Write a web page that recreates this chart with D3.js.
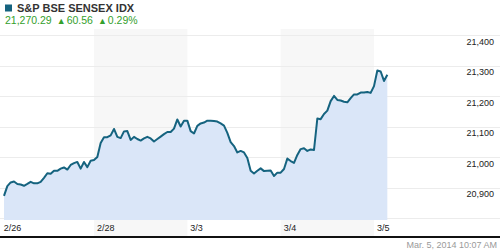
<!DOCTYPE html>
<html lang="en">
<head>
<meta charset="utf-8">
<title>S&amp;P BSE SENSEX IDX</title>
<style>
  body { margin: 0; background: #fff; }
  svg { display: block; font-family: "Liberation Sans", Arial, sans-serif; }
</style>
</head>
<body>
<div id="chart"></div>
<script src="https://d3js.org/d3.v7.min.js"></script>
<script>
// trading days (2/27 was a market holiday)
var days = ["2/26", "2/28", "3/3", "3/4", "3/5"];
var shadedDays = ["2/28", "3/4"];

// intraday values, sampled every ~13 minutes from the open
var day0226 = [20874, 20906, 20918, 20921, 20913, 20911, 20907, 20913, 20920, 20915, 20915, 20920, 20933, 20948,
               20946, 20956, 20956, 20963, 20967, 20960, 20975, 20981, 20985, 20963, 20985, 20968, 20989, 20991];
var day0228 = [21001, 21047, 21066, 21066, 21072, 21093, 21067, 21063, 21085, 21086, 21057, 21067, 21060, 21055,
               21062, 21067, 21062, 21052, 21060, 21068, 21076, 21083, 21083, 21094, 21124, 21101, 21120, 21120];
var day0303 = [21086, 21078, 21103, 21111, 21114, 21120, 21120, 21119, 21117, 21111, 21104, 21080, 21050, 21037,
               21016, 21021, 21016, 20998, 20956, 20947, 20956, 20964, 20955, 20956, 20957, 20939, 20950, 20950];
var day0304 = [20962, 20996, 20988, 20982, 21008, 21027, 21030, 21021, 21026, 21024, 21127, 21125, 21142, 21153,
               21184, 21201, 21188, 21186, 21182, 21180, 21194, 21206, 21206, 21212, 21212, 21214, 21211, 21233];
var day0305 = [21284, 21281, 21250, 21270.29];
var dayValues = [day0226, day0228, day0303, day0304, day0305];

var yTicks = [20800, 20900, 21000, 21100, 21200, 21300, 21400];
var title = "S&P BSE SENSEX IDX";
var lastPrice = "21,270.29";
var change = "60.56";
var changePct = "0.29%";
var timestamp = "Mar. 5, 2014 10:07 AM";

var width = 500,
    height = 250,
    slotsPerDay = 28,
    plotTop = 29,
    plotBottom = 220,
    axisLine = 236;

var points = [];
dayValues.forEach(function(vals, d) {
  vals.forEach(function(v, i) {
    points.push({ slot: d * slotsPerDay + i, value: v });
  });
});

var svg = d3.select("#chart")
  .append("svg")
  .attr("width", width)
  .attr("height", height);

var x = d3.scaleLinear()
  .domain([0, days.length * slotsPerDay])
  .range([4, 4 + days.length * slotsPerDay * 10 / 3]);

var y = d3.scaleLinear()
  .domain([20795, 21420])
  .range([plotBottom, plotTop]);

// day bands
svg.selectAll(".band")
  .data(days)
  .enter().append("rect")
  .attr("class", "band")
  .attr("x", function(d, i) { return x(i * slotsPerDay - 1); })
  .attr("y", plotTop)
  .attr("width", x(slotsPerDay) - x(0))
  .attr("height", axisLine - plotTop)
  .attr("fill", function(d) { return shadedDays.indexOf(d) >= 0 ? "#f7f7f7" : "none"; });

// gridlines
svg.selectAll(".grid")
  .data(yTicks)
  .enter().append("line")
  .attr("class", "grid")
  .attr("x1", 0)
  .attr("x2", width)
  .attr("y1", function(d) { return Math.round(y(d)) + 0.5; })
  .attr("y2", function(d) { return Math.round(y(d)) + 0.5; })
  .attr("stroke", "#ececec")
  .attr("stroke-width", 1);

var area = d3.area()
  .x(function(d) { return x(d.slot); })
  .y0(plotBottom)
  .y1(function(d) { return y(d.value); });

var line = d3.line()
  .x(function(d) { return x(d.slot); })
  .y(function(d) { return y(d.value); });

svg.append("path")
  .datum(points)
  .attr("d", area)
  .attr("fill", "#dae6f8");

svg.append("path")
  .datum(points)
  .attr("d", line)
  .attr("fill", "none")
  .attr("stroke", "#15637f")
  .attr("stroke-width", 2)
  .attr("stroke-linejoin", "round");

// y labels (below their gridline, right side)
svg.selectAll(".ylabel")
  .data(yTicks.filter(function(d) { return y(d) + 10 < plotBottom; }))
  .enter().append("text")
  .attr("class", "ylabel")
  .attr("x", 494)
  .attr("y", function(d) { return y(d) + 9.5; })
  .attr("text-anchor", "end")
  .attr("font-size", "9px")
  .attr("fill", "#222")
  .text(d3.format(","));

// x labels
svg.selectAll(".xlabel")
  .data(days)
  .enter().append("text")
  .attr("class", "xlabel")
  .attr("x", function(d, i) { return x(i * slotsPerDay - 1) + 3; })
  .attr("y", 230.5)
  .attr("font-size", "9px")
  .attr("fill", "#222")
  .text(function(d) { return d; });

svg.append("rect")
  .attr("x", 0)
  .attr("y", axisLine)
  .attr("width", width)
  .attr("height", 2)
  .attr("fill", "#111");

svg.append("text")
  .attr("x", 497)
  .attr("y", 248)
  .attr("text-anchor", "end")
  .attr("font-size", "9px")
  .attr("fill", "#9a9a9a")
  .text(timestamp);

// header
svg.append("rect")
  .attr("x", 5)
  .attr("y", 4.5)
  .attr("width", 7)
  .attr("height", 7)
  .attr("fill", "#15637f");

svg.append("text")
  .attr("x", 17)
  .attr("y", 12)
  .attr("font-size", "11px")
  .attr("font-weight", "bold")
  .attr("fill", "#333")
  .text(title);

var green = "#34a02c";
var quote = svg.append("text")
  .attr("x", 5)
  .attr("y", 24)
  .attr("font-size", "10.5px")
  .attr("fill", green);
quote.append("tspan").text(lastPrice);
quote.append("tspan").attr("dx", 5).attr("font-size", "9px").attr("dy", -0.5).text("\u25B2");
quote.append("tspan").attr("dx", 1).attr("dy", 0.5).text(change);
quote.append("tspan").attr("dx", 5).attr("font-size", "9px").attr("dy", -0.5).text("\u25B2");
quote.append("tspan").attr("dx", 1).attr("dy", 0.5).text(changePct);
</script>
</body>
</html>
